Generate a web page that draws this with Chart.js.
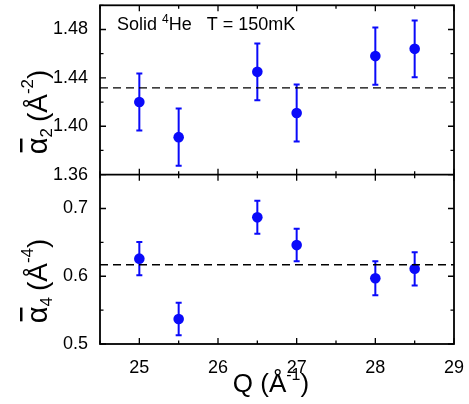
<!DOCTYPE html>
<html>
<head>
<meta charset="utf-8">
<script src="https://cdn.jsdelivr.net/npm/chart.js@4.4.1/dist/chart.umd.min.js"></script>
<style>
  html, body { margin: 0; padding: 0; background: #fff; }
  #wrap { width: 469px; height: 404px; }
</style>
</head>
<body>
<div id="wrap"><canvas id="alphaChart" width="469" height="404"></canvas></div>
<script>
// momentum transfer values (1/Angstrom)
var qValues = [25, 25.5, 26.5, 27, 28, 28.5];

// second moment, alpha_2 (A^-2) with error bars
var alpha2 = [1.420, 1.391, 1.445, 1.411, 1.458, 1.464];
var alpha2Err = [0.0236, 0.0236, 0.0234, 0.0235, 0.0236, 0.0235];
var alpha2Mean = 1.4317;

// fourth moment, alpha_4 (A^-4) with error bars
var alpha4 = [0.626, 0.537, 0.687, 0.646, 0.597, 0.611];
var alpha4Err = [0.0245, 0.024, 0.0243, 0.024, 0.025, 0.0245];
var alpha4Mean = 0.617;

// tick labels
var xTicks = [25, 26, 27, 28, 29];
var alpha2Ticks = [1.36, 1.40, 1.44, 1.48];
var alpha4Ticks = [0.5, 0.6, 0.7];

var blue = "rgb(10, 10, 250)";
var fontFamily = "'Liberation Sans', Arial, sans-serif";

Chart.defaults.font.family = fontFamily;
Chart.defaults.color = "#000";

function toPoints(xs, ys) {
  return xs.map(function (x, i) {
    return { x: x, y: ys[i] };
  });
}

// no extra room for end labels, the frame sits at fixed offsets
function noPadding(s) {
  s.paddingTop = 0;
  s.paddingBottom = 0;
  s.paddingLeft = 0;
  s.paddingRight = 0;
}

// draws a run of text pieces, each with its own size and baseline shift
function drawPieces(ctx, pieces, x, y, align) {
  var total = 0;
  pieces.forEach(function (p) {
    ctx.font = p.size + "px " + fontFamily;
    p.w = ctx.measureText(p.t).width;
    total += p.w + (p.gap || 0);
  });
  var cx = align === "center" ? x - total / 2 : x;
  var spans = [];
  pieces.forEach(function (p) {
    ctx.font = p.size + "px " + fontFamily;
    ctx.fillText(p.t, cx, y - (p.dy || 0));
    spans.push({ x: cx, w: p.w });
    cx += p.w + (p.gap || 0);
  });
  return spans;
}

function yTitle(ctx, cx, cy, sub, sup) {
  ctx.save();
  ctx.translate(cx, cy);
  ctx.rotate(-Math.PI / 2);
  ctx.fillStyle = "#000";
  ctx.textBaseline = "alphabetic";
  var spans = drawPieces(ctx, [
    { t: "\u03b1", size: 29 },
    { t: sub, size: 17, dy: -5, gap: 6 },
    { t: "(\u00c5", size: 28 },
    { t: sup, size: 17, dy: 14 },
    { t: ")", size: 28 }
  ], 0, 0, "center");
  // bar over the alpha
  ctx.fillRect(spans[0].x + 2, -27, spans[0].w - 3, 2.5);
  ctx.restore();
}

var frameAndBars = {
  id: "frameAndBars",
  beforeDatasetsDraw: function (chart) {
    var ctx = chart.ctx;
    ctx.save();
    ctx.strokeStyle = blue;
    ctx.lineWidth = 2;
    chart.data.datasets.forEach(function (ds, i) {
      if (!ds.errors) return;
      var meta = chart.getDatasetMeta(i);
      var yScale = chart.scales[ds.yAxisID];
      meta.data.forEach(function (pt, j) {
        var hi = yScale.getPixelForValue(ds.data[j].y + ds.errors[j]);
        var lo = yScale.getPixelForValue(ds.data[j].y - ds.errors[j]);
        ctx.beginPath();
        ctx.moveTo(pt.x, hi);
        ctx.lineTo(pt.x, lo);
        ctx.moveTo(pt.x - 3, hi);
        ctx.lineTo(pt.x + 3, hi);
        ctx.moveTo(pt.x - 3, lo);
        ctx.lineTo(pt.x + 3, lo);
        ctx.stroke();
      });
    });
    ctx.restore();
  },
  afterDatasetsDraw: function (chart) {
    var ctx = chart.ctx;
    var a = chart.chartArea;
    var x = chart.scales.x;
    var panels = [
      { s: chart.scales.yTop, major: 0.04, minor: 0.02 },
      { s: chart.scales.yBot, major: 0.1, minor: 0.05 }
    ];
    ctx.save();
    ctx.strokeStyle = "#000";
    ctx.lineWidth = 1.8;
    ctx.strokeRect(a.left, a.top, a.right - a.left, a.bottom - a.top);
    ctx.beginPath();
    ctx.moveTo(a.left, panels[0].s.bottom);
    ctx.lineTo(a.right, panels[0].s.bottom);
    ctx.stroke();

    ctx.lineWidth = 1.3;
    ctx.beginPath();
    panels.forEach(function (p) {
      var s = p.s;
      var n = Math.round((s.max - s.min) / p.minor);
      for (var k = 0; k <= n; k++) {
        var v = s.min + k * p.minor;
        var isMajor = Math.abs(v / p.major - Math.round(v / p.major)) < 1e-6;
        var len = isMajor ? 6 : 3.5;
        var py = s.getPixelForValue(v);
        ctx.moveTo(a.left, py);
        ctx.lineTo(a.left + len, py);
        ctx.moveTo(a.right, py);
        ctx.lineTo(a.right - len, py);
      }
      for (var q = x.min; q <= x.max + 1e-6; q += 0.5) {
        var len2 = Math.abs(q - Math.round(q)) < 1e-6 ? 6 : 3.5;
        var px = x.getPixelForValue(q);
        ctx.moveTo(px, s.top);
        ctx.lineTo(px, s.top + len2);
        ctx.moveTo(px, s.bottom);
        ctx.lineTo(px, s.bottom - len2);
      }
    });
    ctx.stroke();
    ctx.restore();
  },
  afterDraw: function (chart) {
    var ctx = chart.ctx;
    ctx.save();
    ctx.fillStyle = "#000";
    ctx.textBaseline = "alphabetic";
    drawPieces(ctx, [
      { t: "Solid ", size: 18 },
      { t: "4", size: 12, dy: 7 },
      { t: "He   T = 150mK", size: 18 }
    ], 117, 30, "left");
    drawPieces(ctx, [
      { t: "Q (\u00c5", size: 26 },
      { t: "-1", size: 16, dy: 12 },
      { t: ")", size: 26 }
    ], 271, 392, "center");
    ctx.restore();
    yTitle(ctx, 47, 112, "2", "-2");
    yTitle(ctx, 47, 281, "4", "-4");
  }
};

var ctx = document.getElementById("alphaChart").getContext("2d");
var alphaChart = new Chart(ctx, {
  type: "scatter",
  data: {
    datasets: [
      {
        label: "alpha2 mean",
        type: "line",
        data: [{ x: 24.5, y: alpha2Mean }, { x: 29, y: alpha2Mean }],
        yAxisID: "yTop",
        borderColor: "#000",
        borderWidth: 1.4,
        borderDash: [8, 5],
        pointRadius: 0,
        fill: false,
      },
      {
        label: "alpha4 mean",
        type: "line",
        data: [{ x: 24.5, y: alpha4Mean }, { x: 29, y: alpha4Mean }],
        yAxisID: "yBot",
        borderColor: "#000",
        borderWidth: 1.4,
        borderDash: [8, 5],
        pointRadius: 0,
        fill: false,
      },
      {
        label: "alpha2",
        data: toPoints(qValues, alpha2),
        errors: alpha2Err,
        yAxisID: "yTop",
        pointRadius: 5.3,
        backgroundColor: blue,
        borderWidth: 0,
      },
      {
        label: "alpha4",
        data: toPoints(qValues, alpha4),
        errors: alpha4Err,
        yAxisID: "yBot",
        pointRadius: 5.3,
        backgroundColor: blue,
        borderWidth: 0,
      },
    ],
  },
  options: {
    responsive: false,
    animation: false,
    devicePixelRatio: 1,
    layout: { padding: { left: 0, right: 15, top: 4, bottom: 0 } },
    plugins: {
      legend: { display: false },
      tooltip: { enabled: false },
    },
    scales: {
      x: {
        type: "linear",
        min: 24.5,
        max: 29,
        grid: { display: false },
        border: { display: false },
        afterBuildTicks: function (s) {
          s.ticks = xTicks.map(function (v) { return { value: v }; });
        },
        ticks: { padding: 5, font: { size: 18 }, color: "#000", maxRotation: 0 },
        afterFit: function (s) { s.height = 60; noPadding(s); },
      },
      // stacked left axes: the one listed first ends up at the bottom
      yBot: {
        type: "linear",
        position: "left",
        stack: "panels",
        stackWeight: 1,
        min: 0.5,
        max: 0.75,
        grid: { display: false },
        border: { display: false },
        afterBuildTicks: function (s) {
          s.ticks = alpha4Ticks.map(function (v) { return { value: v }; });
        },
        ticks: {
          padding: 4,
          font: { size: 18 },
          color: "#000",
          callback: function (v) { return v.toFixed(1); },
        },
        afterFit: function (s) { s.width = 100; noPadding(s); },
      },
      yTop: {
        type: "linear",
        position: "left",
        stack: "panels",
        stackWeight: 1,
        min: 1.36,
        max: 1.5,
        grid: { display: false },
        border: { display: false },
        afterBuildTicks: function (s) {
          s.ticks = alpha2Ticks.map(function (v) { return { value: v }; });
        },
        ticks: {
          padding: 4,
          font: { size: 18 },
          color: "#000",
          callback: function (v) { return v.toFixed(2); },
        },
        afterFit: function (s) { s.width = 100; noPadding(s); },
      },
    },
  },
  plugins: [frameAndBars],
});
</script>
</body>
</html>
